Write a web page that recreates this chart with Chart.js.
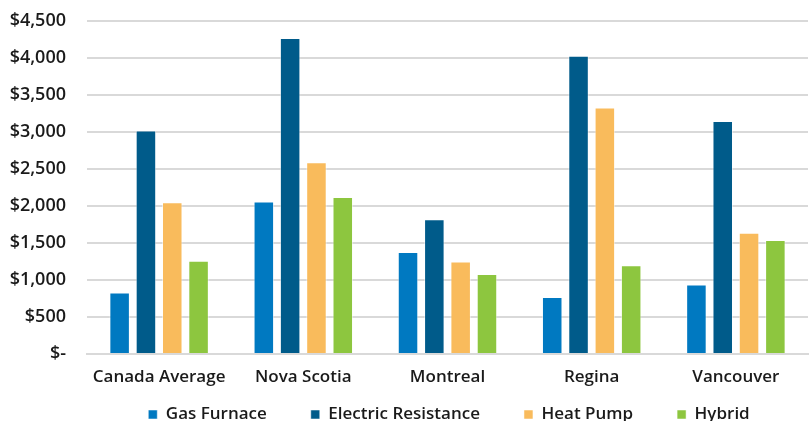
<!DOCTYPE html>
<html lang="en">
<head>
    <meta charset="UTF-8">
    <script src="https://cdn.jsdelivr.net/npm/chart.js@4/dist/chart.umd.min.js"></script>
    <title>Heating cost chart</title>
    <style>
        body { margin: 0; background: #fff; }
        #wrap { width: 812px; height: 421px; }
    </style>
</head>
<body>
    <div id="wrap">
        <canvas id="mychart-bar"></canvas>
    </div>
    <script>
        var cities = ['Canada Average', 'Nova Scotia', 'Montreal', 'Regina', 'Vancouver'];
        var seriesNames = ['Gas Furnace', 'Electric Resistance', 'Heat Pump', 'Hybrid'];
        var gasFurnace = [830, 2060, 1380, 770, 940];
        var electricResistance = [3020, 4270, 1820, 4030, 3150];
        var heatPump = [2050, 2590, 1250, 3330, 1640];
        var hybrid = [1260, 2120, 1080, 1200, 1540];
        var colors = ['#0079c1', '#005b8a', '#f9bb5c', '#8dc63f'];

        var allData = [gasFurnace, electricResistance, heatPump, hybrid];
        var datasets = [];
        for (var i = 0; i < seriesNames.length; i++) {
            datasets.push({
                label: seriesNames[i],
                data: allData[i],
                backgroundColor: colors[i],
                borderColor: 'rgba(255,255,255,0.5)',
                borderWidth: 1,
                categoryPercentage: 0.73,
                barPercentage: 0.78
            });
        }

        var font = { family: 'Open Sans', size: 17, weight: '600' };
        var legendPad = 44;

        // keep the wide horizontal gaps of the legend but not its tall height
        var legendSqueeze = {
            id: 'legendSqueeze',
            beforeLayout: function (chart) {
                var lg = chart.legend;
                if (lg && !lg._squeezed) {
                    var fit = lg.fit;
                    lg.fit = function () {
                        fit.call(this);
                        this.height = 34;
                    };
                    lg._squeezed = true;
                }
            },
            afterLayout: function (chart) {
                var lg = chart.legend;
                lg.top = lg.top - legendPad + 19;
                lg.left = lg.left + 41;
                lg.right = lg.right + 41;
            }
        };

        var ctx = document.getElementById('mychart-bar');
        var myChart = new Chart(ctx, {
            type: 'bar',
            data: { labels: cities, datasets: datasets },
            plugins: [legendSqueeze],
            options: {
                responsive: true,
                maintainAspectRatio: false,
                animation: false,
                layout: { padding: { top: 0, right: 4, left: 8, bottom: 0 } },
                plugins: {
                    legend: {
                        position: 'bottom',
                        labels: {
                            boxWidth: 9,
                            boxHeight: 9,
                            padding: legendPad,
                            color: '#1a1a1a',
                            font: font
                        }
                    },
                    tooltip: { enabled: false }
                },
                scales: {
                    x: {
                        grid: { display: false, drawTicks: false },
                        border: { color: '#d9d9d9', width: 2 },
                        ticks: {
                            color: '#1a1a1a',
                            padding: 13,
                            font: font
                        },
                        afterFit: function (scale) {
                            scale.height = 33;
                        }
                    },
                    y: {
                        min: 0,
                        max: 4500,
                        border: { display: false },
                        grid: { color: '#d9d9d9', lineWidth: 2, drawTicks: false },
                        ticks: {
                            stepSize: 500,
                            padding: 21,
                            color: '#1a1a1a',
                            font: { family: 'Open Sans', size: 18, weight: '600' },
                            callback: function (v) {
                                return v === 0 ? '$-' : '$' + v.toLocaleString('en-US');
                            }
                        },
                        afterFit: function (scale) {
                            scale.width = 79;
                            scale.paddingTop = 21;
                            scale.paddingBottom = 0;
                        }
                    }
                }
            }
        });
    </script>
</body>
</html>
